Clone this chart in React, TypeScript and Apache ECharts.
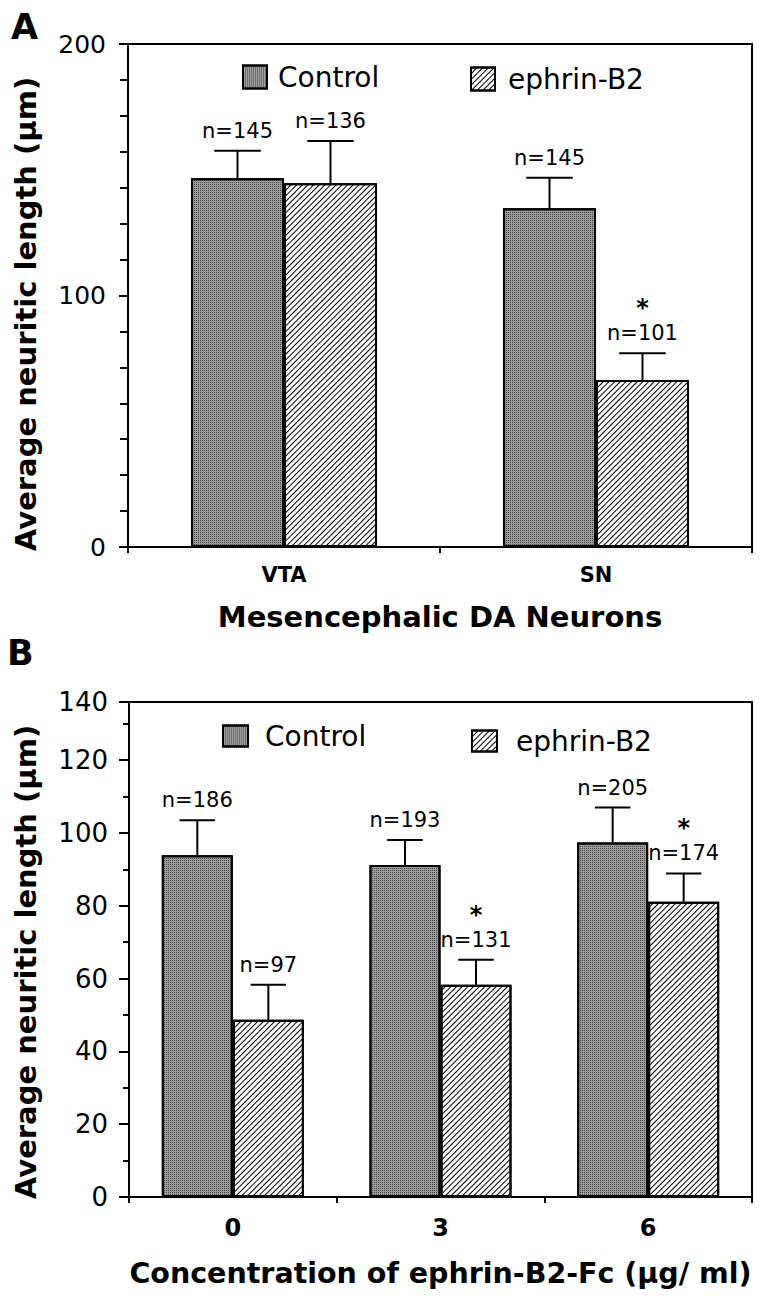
import React, { useEffect, useRef } from 'react';
import * as echarts from 'echarts';

// ---------- Panel A data ----------
const categoriesA = ['VTA', 'SN'];
const controlA = [146.6, 134.7];
const controlAErr = [11.0, 12.1];
const ephrinA = [144.6, 66.4];
const ephrinAErr = [16.8, 10.6];
const nControlA = ['n=145', 'n=145'];
const nEphrinA = ['n=136', 'n=101'];
const sigControlA = [false, false];
const sigEphrinA = [false, true];
const yMaxA = 200;
const yIntervalA = 100;

// ---------- Panel B data ----------
const categoriesB = ['0', '3', '6'];
const controlB = [93.9, 91.2, 97.4];
const controlBErr = [9.6, 6.9, 9.6];
const ephrinB = [48.7, 58.3, 81.1];
const ephrinBErr = [9.6, 6.9, 7.8];
const nControlB = ['n=186', 'n=193', 'n=205'];
const nEphrinB = ['n=97', 'n=131', 'n=174'];
const sigControlB = [false, false, false];
const sigEphrinB = [false, true, true];
const yMaxB = 136; // frame top
const yTopLabelB = '140';
const yIntervalB = 20;

const seriesNames = ['Control', 'ephrin-B2'];

const FONT = 'DejaVu Sans';
const BAR_FRAC_A = 0.298;
const BAR_FRAC_B = 0.342;

const stipple: any = {
  symbol: 'rect',
  symbolSize: 1,
  color: '#444444',
  backgroundColor: '#b8b8b8',
  dashArrayX: [1, 1],
  dashArrayY: [1, 1],
};
const hatch: any = {
  symbol: 'rect',
  symbolSize: 1,
  color: '#000',
  dashArrayX: [1, 0],
  dashArrayY: [1, 3],
  rotation: -Math.PI / 4,
};

function barSeries(name: string, data: number[], axis: number, frac: number, decal: any, color: string) {
  return {
    type: 'bar',
    name,
    xAxisIndex: axis,
    yAxisIndex: axis,
    data,
    barWidth: (frac * 100).toFixed(1) + '%',
    barGap: '0%',
    z: 2,
    itemStyle: { color, borderColor: '#000', borderWidth: 2, decal },
    emphasis: { disabled: true },
  };
}

function errSeries(
  name: string,
  means: number[],
  errs: number[],
  labels: string[],
  sig: boolean[],
  side: number,
  axis: number,
  frac: number
) {
  return {
    type: 'custom',
    name: name + ' SEM',
    xAxisIndex: axis,
    yAxisIndex: axis,
    z: 5,
    silent: true,
    data: means.map((m, i) => [i, m, m + errs[i]]),
    renderItem: (params: any, api: any) => {
      const i = params.dataIndex;
      const cat = api.value(0);
      const mean = api.value(1);
      const top = api.value(2);
      const band = api.size([1, 0])[0];
      const bw = band * frac;
      const base = api.coord([cat, mean]);
      const tp = api.coord([cat, top]);
      const x = base[0] + (side * bw) / 2;
      const cap = bw * 0.25;
      const children: any[] = [
        { type: 'line', shape: { x1: x, y1: base[1], x2: x, y2: tp[1] }, style: { stroke: '#000', lineWidth: 2 } },
        { type: 'line', shape: { x1: x - cap, y1: tp[1], x2: x + cap, y2: tp[1] }, style: { stroke: '#000', lineWidth: 2 } },
        {
          type: 'text',
          style: {
            text: labels[i],
            x,
            y: tp[1] - 20,
            align: 'center',
            verticalAlign: 'middle',
            fontFamily: FONT,
            fontSize: 21,
            fill: '#000',
          },
        },
      ];
      if (sig[i]) {
        children.push({
          type: 'text',
          style: {
            text: '*',
            x,
            y: tp[1] - 45,
            align: 'center',
            verticalAlign: 'middle',
            fontFamily: FONT,
            fontWeight: 'bold',
            fontSize: 24,
            fill: '#000',
          },
        });
      }
      return { type: 'group', children };
    },
  };
}

const axisLineStyle = { color: '#000', width: 2 };

function legend(name: string, left: number, top: number, w: number, h: number, pad: number) {
  return {
    data: [name],
    left,
    top,
    padding: 0,
    itemWidth: w,
    itemHeight: h,
    icon: 'rect',
    selectedMode: false,
    itemStyle: { borderColor: '#000', borderWidth: 2 },
    textStyle: { fontFamily: FONT, fontSize: 28, color: '#000', padding: [0, 0, 0, pad] },
  };
}

function buildOption() {
  return {
    animation: false,
    backgroundColor: '#ffffff',
    legend: [
      legend(seriesNames[0], 242, 63, 24, 23, 6),
      legend(seriesNames[1], 470, 65, 24, 23, 8),
      legend(seriesNames[0], 222, 722, 25, 21, 12),
      legend(seriesNames[1], 471, 727, 25, 21, 14),
    ],
    grid: [
      { left: 128, top: 44, width: 624, height: 503, show: true, borderColor: '#000', borderWidth: 2, backgroundColor: 'transparent' },
      { left: 129, top: 702, width: 623, height: 495, show: true, borderColor: '#000', borderWidth: 2, backgroundColor: 'transparent' },
    ],
    xAxis: [
      {
        gridIndex: 0,
        type: 'category',
        data: categoriesA,
        axisLine: { show: true, lineStyle: axisLineStyle },
        axisTick: { show: true, length: 6, lineStyle: axisLineStyle },
        axisLabel: { color: '#000', fontFamily: FONT, fontWeight: 'bold', fontSize: 21, margin: 17 },
        splitLine: { show: false },
        name: 'Mesencephalic DA Neurons',
        nameLocation: 'middle',
        nameGap: 55,
        nameTextStyle: { color: '#000', fontFamily: FONT, fontWeight: 'bold', fontSize: 29 },
      },
      {
        gridIndex: 1,
        type: 'category',
        data: categoriesB,
        axisLine: { show: true, lineStyle: axisLineStyle },
        axisTick: { show: true, length: 6, lineStyle: axisLineStyle },
        axisLabel: { color: '#000', fontFamily: FONT, fontWeight: 'bold', fontSize: 24, margin: 19 },
        splitLine: { show: false },
        name: 'Concentration of ephrin-B2-Fc (\u00b5g/ ml)',
        nameLocation: 'middle',
        nameGap: 62,
        nameTextStyle: { color: '#000', fontFamily: FONT, fontWeight: 'bold', fontSize: 28.5 },
      },
    ],
    yAxis: [
      {
        gridIndex: 0,
        type: 'value',
        min: 0,
        max: yMaxA,
        interval: yIntervalA,
        axisLine: { show: true, lineStyle: axisLineStyle },
        axisTick: { show: true, length: 9, lineStyle: axisLineStyle },
        minorTick: { show: true, splitNumber: 7, length: 8, lineStyle: { color: '#000', width: 2 } },
        splitLine: { show: false },
        minorSplitLine: { show: false },
        axisLabel: { color: '#000', fontFamily: FONT, fontSize: 25, margin: 22 },
      },
      {
        gridIndex: 1,
        type: 'value',
        min: 0,
        max: yMaxB,
        interval: yIntervalB,
        axisLine: { show: true, lineStyle: axisLineStyle },
        axisTick: { show: true, length: 10, lineStyle: axisLineStyle },
        minorTick: { show: true, splitNumber: 2, length: 6, lineStyle: { color: '#000', width: 2 } },
        splitLine: { show: false },
        minorSplitLine: { show: false },
        axisLabel: {
          color: '#000',
          fontFamily: FONT,
          fontSize: 26,
          margin: 21,
          showMaxLabel: true,
          formatter: (v: number) => (v === yMaxB ? yTopLabelB : String(v)),
        },
      },
    ],
    graphic: [
      { type: 'text', left: 11, top: 9, style: { text: 'A', fontFamily: FONT, fontWeight: 'bold', fontSize: 35, fill: '#000' } },
      { type: 'text', left: 7, top: 635, style: { text: 'B', fontFamily: FONT, fontWeight: 'bold', fontSize: 35, fill: '#000' } },
      {
        type: 'text',
        x: 26,
        y: 314,
        rotation: Math.PI / 2,
        style: { text: 'Average neuritic length (\u00b5m)', align: 'center', verticalAlign: 'middle', fontFamily: FONT, fontWeight: 'bold', fontSize: 29, fill: '#000' },
      },
      {
        type: 'text',
        x: 26,
        y: 962,
        rotation: Math.PI / 2,
        style: { text: 'Average neuritic length (\u00b5m)', align: 'center', verticalAlign: 'middle', fontFamily: FONT, fontWeight: 'bold', fontSize: 29, fill: '#000' },
      },
    ],
    series: [
      barSeries(seriesNames[0], controlA, 0, BAR_FRAC_A, stipple, '#9c9c9c'),
      barSeries(seriesNames[1], ephrinA, 0, BAR_FRAC_A, hatch, '#ffffff'),
      barSeries(seriesNames[0], controlB, 1, BAR_FRAC_B, stipple, '#9c9c9c'),
      barSeries(seriesNames[1], ephrinB, 1, BAR_FRAC_B, hatch, '#ffffff'),
      errSeries(seriesNames[0], controlA, controlAErr, nControlA, sigControlA, -1, 0, BAR_FRAC_A),
      errSeries(seriesNames[1], ephrinA, ephrinAErr, nEphrinA, sigEphrinA, 1, 0, BAR_FRAC_A),
      errSeries(seriesNames[0], controlB, controlBErr, nControlB, sigControlB, -1, 1, BAR_FRAC_B),
      errSeries(seriesNames[1], ephrinB, ephrinBErr, nEphrinB, sigEphrinB, 1, 1, BAR_FRAC_B),
    ],
  };
}

export default function App() {
  const ref = useRef<HTMLDivElement>(null);
  useEffect(() => {
    if (!ref.current) return;
    const chart = echarts.init(ref.current, null, { renderer: 'svg', width: 766, height: 1296 });
    chart.setOption(buildOption() as any);
    return () => chart.dispose();
  }, []);
  return (
    <div
      ref={ref}
      style={{ position: 'absolute', left: 0, top: 0, width: 766, height: 1296, background: '#fff' }}
    />
  );
}
